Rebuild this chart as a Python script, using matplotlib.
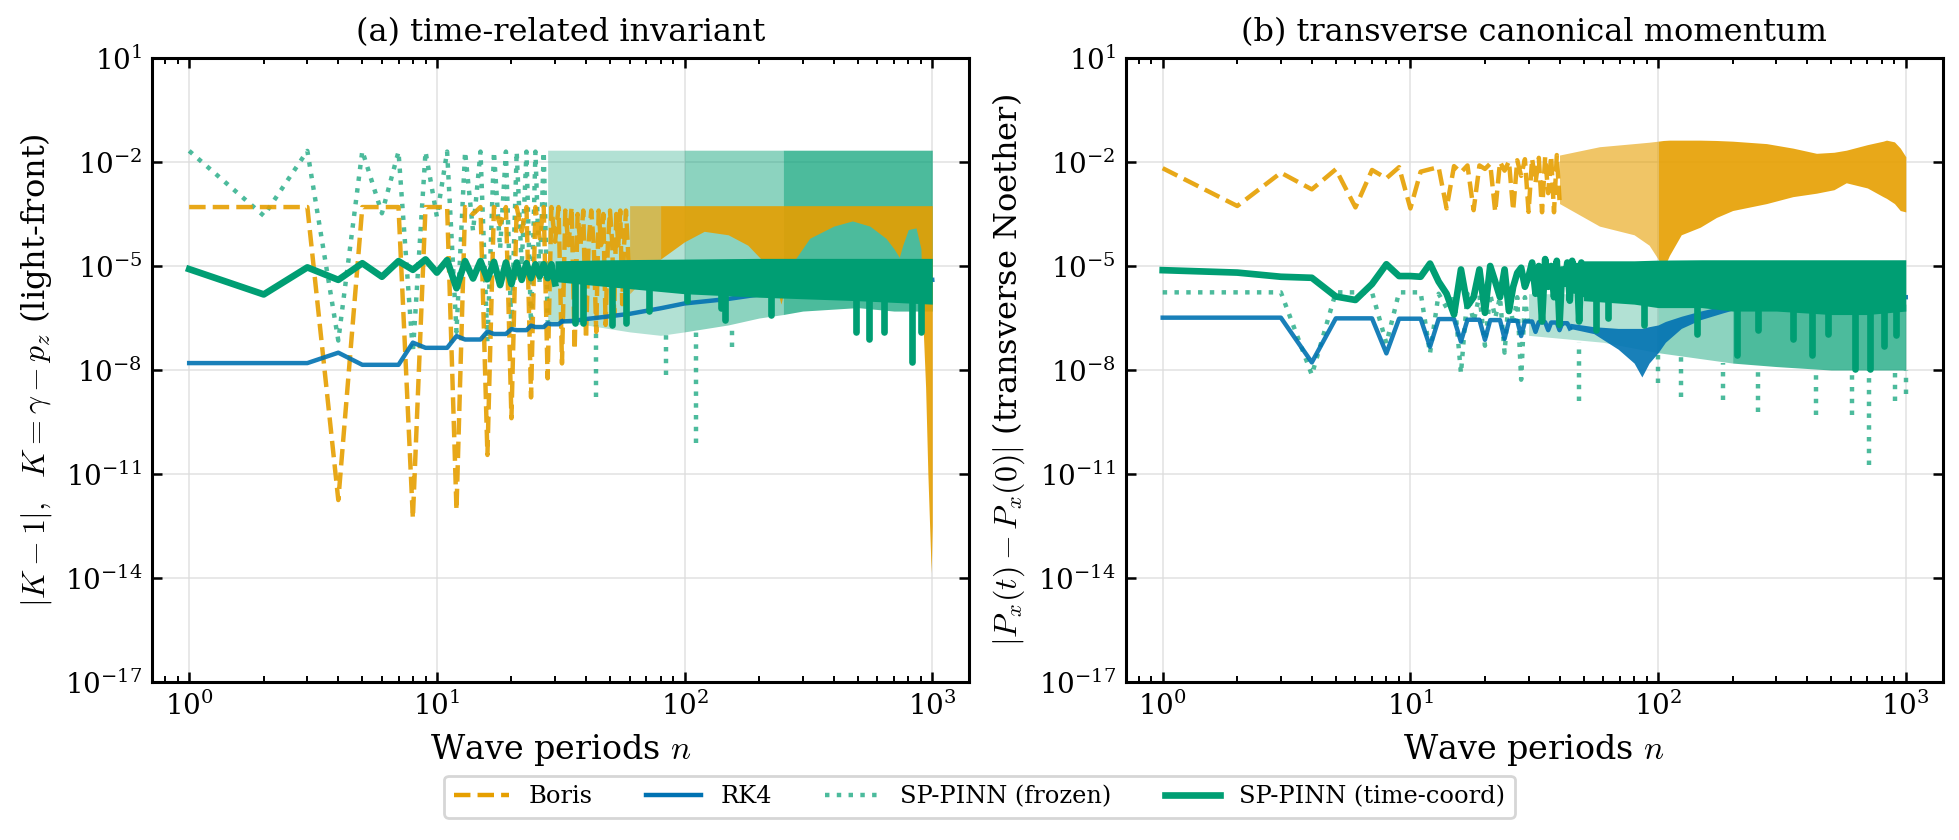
# Invariant drift of Boris / RK4 / SP-PINN integrators vs wave periods
import numpy as np
import matplotlib.pyplot as plt
from matplotlib.ticker import LogLocator, NullLocator, FixedLocator

plt.rcParams['font.family'] = 'DejaVu Serif'
plt.rcParams['mathtext.fontset'] = 'cm'

c_boris = '#E69F00'
c_rk4 = '#0072B2'
c_pinn = '#009E73'

# ---------------- panel (a): log10 |K-1| ----------------
# sparse part, one value per period n = 1, 2, ...
a_boris = [-3.3, -3.3, -3.3, -11.75, -3.3, -3.3, -3.3, -12.28, -3.3, -3.3,
           -3.3, -12.04, -3.3, -3.5, -3.3, -10.45, -3.3, -3.8, -3.3, -9.39,
           -3.3, -4.0, -3.3, -8.79, -3.3, -4.2, -3.3, -8.24, -3.3, -4.3,
           -3.3, -7.81, -3.4, -4.4, -3.3, -7.42, -3.5, -4.4, -3.4, -7.1,
           -4.3, -3.4, -4.4, -6.9, -3.4, -4.4, -3.5, -6.7, -4.4, -3.4,
           -4.3, -6.4, -3.5, -4.4, -3.4, -6.1, -4.4, -3.4, -4.4, -5.8]
a_rk4 = [-7.8, -7.8, -7.8, -7.5, -7.85, -7.85, -7.85, -7.21, -7.36, -7.36,
         -7.36, -7.02, -7.12, -7.12, -7.12, -6.89, -6.96, -6.96, -6.96, -6.82,
         -6.85, -6.85, -6.85, -6.72, -6.76, -6.76, -6.76, -6.65, -6.68, -6.68,
         -6.68, -6.6]
a_rk4_tail_n = [32, 36, 40, 46, 60, 80, 100, 150, 200, 300, 500, 1000]
a_rk4_tail = [-6.6, -6.58, -6.53, -6.48, -6.38, -6.22, -6.08, -5.95, -5.82, -5.68, -5.55, -5.4]
a_frozen = [-1.68, -3.55, -1.68, -7.15, -1.68, -3.48, -1.7, -7.5, -1.7, -3.58,
            -1.7, -6.9, -1.7, -4.0, -1.7, -7.2, -1.7, -4.5, -1.7, -6.9,
            -1.7, -5.0, -1.7, -6.8, -1.7, -5.5, -1.7, -6.6]
a_time = [-5.09, -5.82, -5.04, -5.4, -4.92, -5.31, -4.86, -5.11, -4.81, -5.19,
          -4.83, -5.64, -4.86, -5.36, -4.86, -5.38, -4.88, -5.55, -4.9, -5.52,
          -4.9, -5.4, -4.92, -5.35, -4.95, -5.3, -4.95, -5.35, -4.95, -5.5]

# dense part, upper / lower envelopes
a_boris_band_n = [60, 70, 80, 100, 120, 150, 180, 210, 235, 245, 255, 280, 320, 400,
                  476, 560, 650, 700, 736, 760, 800, 860, 900, 914, 940, 960, 980, 990, 1000]
a_boris_band_hi = [-3.26] * 29
a_boris_band_lo = [-5.8, -5.3, -4.8, -4.3, -4.0, -4.1, -4.4, -4.9, -5.6, -6.1, -5.6, -4.8, -4.2, -3.85,
                   -3.7, -3.85, -4.2, -4.5, -4.75, -4.4, -3.95, -3.9, -4.5, -6.4, -8.5, -11.0, -12.9, -13.85, -12.5]
a_frozen_band_n = [28, 40, 60, 80, 100, 150, 200, 250, 300, 500, 700, 1000]
a_frozen_band_hi = [-1.66] * 12
a_frozen_band_lo = [-6.6, -6.7, -6.9, -7.0, -6.9, -6.7, -6.5, -6.4, -6.3, -6.2, -6.3, -6.3]
a_frozen_spike_n = [44, 84, 111, 155]
a_frozen_spike_lo = [-8.77, -8.15, -10.1, -7.33]
a_frozen_spike_hi = [-6.7, -7.0, -6.9, -6.7]
a_time_band_n = [30, 50, 100, 200, 500, 1000]
a_time_band_hi = [-4.85, -4.82, -4.8, -4.78, -4.78, -4.78]
a_time_band_lo = [-5.45, -5.6, -5.8, -5.9, -6.0, -6.1]
a_time_spike_n = [36, 39, 51, 58, 72, 102, 140, 145, 224, 494, 557, 640, 830, 900]
a_time_spike_lo = [-6.65, -6.65, -6.7, -6.65, -6.3, -6.0, -6.2, -6.55, -6.4, -6.9, -7.1, -6.9, -7.78, -6.9]

# ---------------- panel (b): log10 |Px(t)-Px(0)| ----------------
b_boris = [-2.18, -3.27, -2.31, -2.79, -2.21, -3.31, -2.23, -2.47, -2.15, -3.34,
           -2.28, -2.21, -2.15, -3.34, -2.12, -2.3, -2.1, -3.39, -2.1, -2.2,
           -2.05, -3.44, -2.0, -2.25, -1.98, -3.4, -1.95, -2.4, -1.92, -3.44,
           -1.9, -2.6, -1.88, -3.45, -1.85, -2.9, -1.82, -3.45, -1.8, -3.1]
b_rk4 = [-6.49, -6.49, -6.49, -7.78, -6.51, -6.51, -6.51, -7.52, -6.52, -6.52,
         -6.52, -7.33, -6.53, -6.53, -6.53, -7.18, -6.55, -6.55, -6.55, -7.13,
         -6.56, -6.56, -6.56, -7.1, -6.58, -6.58, -6.58, -7.02, -6.6, -6.6,
         -6.6, -6.9, -6.62, -6.62, -6.62, -6.85, -6.63, -6.63, -6.63, -6.85,
         -6.65, -6.65, -6.65, -6.8]
b_rk4_tail_n = [230, 400, 1000]
b_rk4_tail = [-6.05, -5.95, -5.9]
b_frozen = [-5.76, -5.76, -5.76, -8.14, -5.76, -5.76, -5.76, -7.23, -5.76, -5.76,
            -5.76, -7.52, -5.8, -6.2, -5.8, -8.1, -5.8, -6.6, -5.85, -7.3,
            -5.8, -6.5, -5.9, -7.5, -5.85, -6.7, -5.9, -8.28, -5.9, -6.8]
b_time = [-5.12, -5.19, -5.31, -5.34, -5.88, -5.98, -5.52, -4.95, -5.29, -5.29,
          -5.31, -4.93, -5.45, -5.8, -6.4, -5.1, -6.15, -5.9, -5.1, -6.35,
          -5.0, -5.45, -5.9, -5.1, -6.3, -5.6, -5.2, -5.05, -5.6, -5.3,
          -4.9, -5.8, -5.0, -6.6, -4.8, -5.6, -5.0, -5.9, -4.85, -6.7,
          -5.1, -5.5, -4.9, -6.0, -4.85, -5.7, -5.0, -6.6, -4.9, -5.8]

b_boris_band_n = [40, 58, 80, 92, 100, 105, 111, 124, 148, 172, 200, 274, 350, 436,
                  513, 575, 700, 810, 836, 900, 950, 1000]
b_boris_band_hi = [-1.8, -1.56, -1.47, -1.43, -1.4, -1.38, -1.37, -1.37, -1.37, -1.38, -1.4,
                   -1.47, -1.6, -1.75, -1.72, -1.66, -1.5, -1.4, -1.37, -1.42, -1.6, -1.85]
b_boris_band_lo = [-3.2, -3.85, -4.1, -4.4, -4.8, -5.1, -4.7, -4.1, -3.88, -3.6, -3.4,
                   -3.2, -3.0, -2.9, -2.8, -2.6, -2.75, -3.0, -3.05, -3.2, -3.4, -3.44]
b_rk4_band_n = [44, 55, 69, 80, 86, 92, 100, 107, 124, 148, 183, 230]
b_rk4_band_hi = [-6.65, -6.75, -6.8, -6.8, -6.8, -6.75, -6.7, -6.6, -6.45, -6.3, -6.15, -6.0]
b_rk4_band_lo = [-6.8, -6.95, -7.4, -7.8, -8.2, -7.8, -7.5, -7.2, -6.8, -6.55, -6.35, -6.15]
b_frozen_band_n = [30, 60, 100, 200, 300, 500, 700, 1000]
b_frozen_band_hi = [-5.8, -5.8, -5.85, -6.0, -6.1, -6.1, -6.1, -6.1]
b_frozen_band_lo = [-7.0, -7.2, -7.5, -7.8, -7.9, -8.0, -8.0, -8.0]
b_frozen_spike_n = [48, 100, 124, 183, 253, 436, 604, 711, 902, 1000]
b_frozen_spike_lo = [-8.9, -8.38, -8.77, -8.86, -9.2, -9.3, -9.3, -10.75, -8.9, -8.7]
b_frozen_spike_hi = [-7.2, -7.5, -7.6, -7.8, -7.9, -8.0, -8.0, -8.0, -8.0, -8.0]
b_time_band_n = [50, 80, 100, 150, 200, 300, 500, 700, 1000]
b_time_band_hi = [-4.85, -4.85, -4.83, -4.82, -4.82, -4.82, -4.82, -4.82, -4.82]
b_time_band_lo = [-6.0, -6.1, -6.2, -6.2, -6.3, -6.3, -6.4, -6.4, -6.3]
b_time_spike_n = [56, 63, 88, 143, 208, 253, 351, 420, 486, 623, 716, 816, 917]
b_time_spike_lo = [-6.85, -6.5, -6.7, -6.96, -7.57, -6.85, -7.1, -7.57, -6.95, -7.97, -7.97, -7.3, -7.0]

labels = ['Boris', 'RK4', 'SP-PINN (frozen)', 'SP-PINN (time-coord)']


def p(v):
    return 10.0 ** np.asarray(v, dtype=float)


def nn(v):
    return np.arange(1, len(v) + 1)


def shaded_band(ax, band, splits, alphas, color, z):
    # dense region drawn as a filled envelope; sparser (dotted/dashed) stretches lighter
    n, lo, hi = (np.asarray(x, dtype=float) for x in band)
    edges = [n[0]] + list(splits) + [n[-1]]
    for k, a in enumerate(alphas):
        m = (n >= edges[k]) & (n <= edges[k + 1])
        ax.fill_between(n[m], p(lo[m]), p(hi[m]), color=color, alpha=a, lw=0, zorder=z)


def draw(ax, d):
    a_fr = 0.7
    # frozen PINN (dotted, light)
    ax.plot(nn(d['frozen']), p(d['frozen']), ':', color=c_pinn, alpha=a_fr, lw=1.6, zorder=1)
    shaded_band(ax, d['frozen_band'], d['frozen_split'], [0.3, 0.45, a_fr], c_pinn, 1)
    sn, slo, shi = d['frozen_spikes']
    ax.vlines(sn, p(slo), p(shi), colors=c_pinn, alpha=a_fr, lw=1.6,
              linestyles=':', zorder=1)

    # Boris
    ax.plot(nn(d['boris']), p(d['boris']), '--', color=c_boris, alpha=0.9,
            lw=1.6, zorder=2)
    shaded_band(ax, d['boris_band'], d['boris_split'], [0.6, 0.9], c_boris, 2)

    # RK4
    ax.plot(nn(d['rk4']), p(d['rk4']), '-', color=c_rk4, alpha=0.9, lw=1.6, zorder=3)
    rn, rv = d['rk4_tail']
    ax.plot(rn, p(rv), '-', color=c_rk4, alpha=0.9, lw=1.6, zorder=3)
    if d.get('rk4_band') is not None:
        rn, rlo, rhi = d['rk4_band']
        ax.fill_between(rn, p(rlo), p(rhi), color=c_rk4, alpha=0.9, lw=0, zorder=3)

    # time-coordinate PINN
    ax.plot(nn(d['time']), p(d['time']), '-', color=c_pinn, lw=2.4, zorder=4)
    tn, tlo, thi = d['time_band']
    ax.fill_between(tn, p(tlo), p(thi), color=c_pinn, lw=0, zorder=4)
    sn, slo = d['time_spikes']
    ax.vlines(sn, p(slo), p([-5.3] * len(sn)), colors=c_pinn, lw=2.4, zorder=4,
              capstyle='round')


panel_a = dict(
    boris=a_boris, rk4=a_rk4, rk4_tail=(a_rk4_tail_n, a_rk4_tail),
    frozen=a_frozen, time=a_time,
    boris_band=(a_boris_band_n, a_boris_band_lo, a_boris_band_hi), boris_split=[80],
    frozen_band=(a_frozen_band_n, a_frozen_band_lo, a_frozen_band_hi), frozen_split=[100, 250],
    frozen_spikes=(a_frozen_spike_n, a_frozen_spike_lo, a_frozen_spike_hi),
    time_band=(a_time_band_n, a_time_band_lo, a_time_band_hi),
    time_spikes=(a_time_spike_n, a_time_spike_lo),
    rk4_band=None,
)
panel_b = dict(
    boris=b_boris, rk4=b_rk4, rk4_tail=(b_rk4_tail_n, b_rk4_tail),
    frozen=b_frozen, time=b_time,
    boris_band=(b_boris_band_n, b_boris_band_lo, b_boris_band_hi), boris_split=[100],
    frozen_band=(b_frozen_band_n, b_frozen_band_lo, b_frozen_band_hi), frozen_split=[100, 200],
    frozen_spikes=(b_frozen_spike_n, b_frozen_spike_lo, b_frozen_spike_hi),
    time_band=(b_time_band_n, b_time_band_lo, b_time_band_hi),
    time_spikes=(b_time_spike_n, b_time_spike_lo),
    rk4_band=(b_rk4_band_n, b_rk4_band_lo, b_rk4_band_hi),
)

fig, axes = plt.subplots(1, 2, figsize=(9.795, 4.2), dpi=200)
fig.subplots_adjust(left=0.0776, right=0.9918, wspace=0.191, top=0.931, bottom=0.188)

titles = ['(a) time-related invariant', '(b) transverse canonical momentum']
ylabels = [r'$|K-1|,\ \ K=\gamma-p_z$ (light-front)',
           r'$|P_x(t)-P_x(0)|$ (transverse Noether)']

for ax, d, t, yl in zip(axes, [panel_a, panel_b], titles, ylabels):
    draw(ax, d)
    ax.set_xscale('log')
    ax.set_yscale('log')
    ax.set_xlim(10 ** -0.15, 10 ** 3.15)
    ax.set_ylim(1e-17, 1e1)
    ax.yaxis.set_major_locator(FixedLocator(p([1, -2, -5, -8, -11, -14, -17])))
    ax.yaxis.set_minor_locator(NullLocator())
    ax.xaxis.set_major_locator(LogLocator(base=10))
    ax.xaxis.set_minor_locator(LogLocator(base=10, subs=np.arange(2, 10)))
    ax.tick_params(which='both', direction='in', top=True, right=True, labelsize=10)
    ax.tick_params(which='major', length=3.5, width=0.9)
    ax.tick_params(which='minor', length=2, width=0.7)
    ax.grid(True, which='major', color='#dddddd', lw=0.6, alpha=0.8)
    ax.set_axisbelow(True)
    for s in ax.spines.values():
        s.set_linewidth(1.1)
    ax.set_title(t, fontsize=11.5)
    ax.set_xlabel('Wave periods $n$', fontsize=12)
    ax.set_ylabel(yl, fontsize=11.5)

handles = [
    plt.Line2D([], [], ls='--', color=c_boris, lw=1.6),
    plt.Line2D([], [], ls='-', color=c_rk4, lw=1.6),
    plt.Line2D([], [], ls=':', color=c_pinn, alpha=0.7, lw=1.6),
    plt.Line2D([], [], ls='-', color=c_pinn, lw=2.4),
]
fig.legend(handles, labels, loc='lower center', bbox_to_anchor=(0.5, 0.012), ncol=4,
           fontsize=8.7, frameon=True, fancybox=True, edgecolor='#cccccc',
           handlelength=2.3, columnspacing=2.2)

fig.savefig('out.png', dpi=200)
